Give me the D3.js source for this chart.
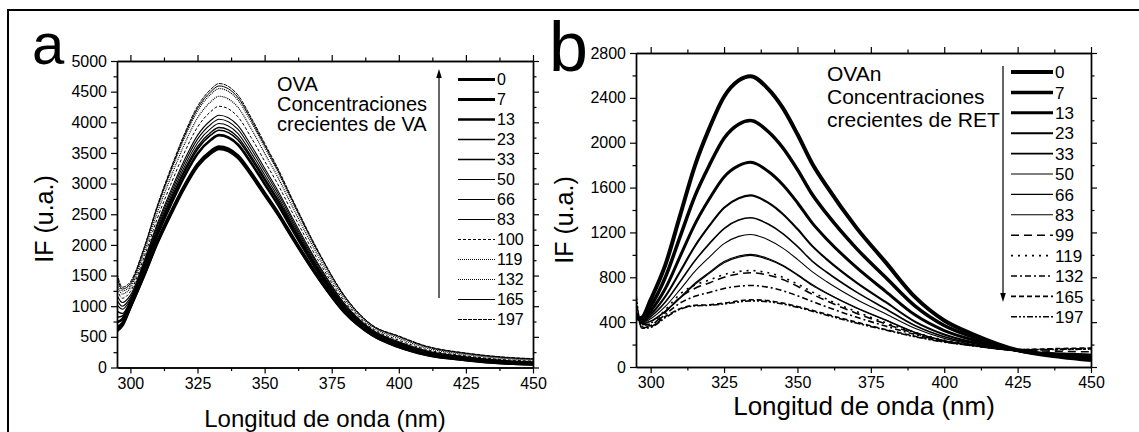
<!DOCTYPE html>
<html><head><meta charset="utf-8">
<script src="https://cdn.jsdelivr.net/npm/d3@7"></script>
<style>
body{margin:0;background:#fff;}
text{font-family:"Liberation Sans",Arial,sans-serif;fill:#000;}
</style>
</head><body>
<svg id="c" width="1139" height="432"></svg>
<script>
// ---------- DATA ----------
const waveA = [295,297,300,305,310,315,320,325,330,333,340,345,350,355,360,370,380,390,400,410,425,440,450];
const waveB = [295,297,300,305,310,315,320,325,330,334,340,345,350,355,360,370,380,390,400,410,425,440,450];

const concA = ["0","7","13","23","33","50","66","83","100","119","132","165","197"];
const concB = ["0","7","13","23","33","50","66","83","99","119","132","165","197"];

const xTicks = [300,325,350,375,400,425,450];
const yTicksA = [0,500,1000,1500,2000,2500,3000,3500,4000,4500,5000];
const yTicksB = [0,400,800,1200,1600,2000,2400,2800];

// Panel a: OVA + VA
const va0   = [600,690,990,1500,2036,2500,2929,3286,3500,3572,3429,3143,2822,2500,2143,1465,893,536,339,214,125,71,54];
const va7   = [650,720,1000,1512,2052,2520,2952,3312,3528,3600,3456,3168,2844,2520,2160,1476,900,540,342,216,126,72,54];
const va13  = [740,790,1050,1592,2160,2653,3108,3487,3714,3790,3638,3335,2994,2653,2274,1554,948,569,365,232,138,81,62];
const va23  = [820,840,1070,1625,2206,2709,3173,3560,3793,3870,3715,3406,3057,2709,2322,1587,968,581,378,242,145,87,68];
const va33  = [920,880,1090,1644,2232,2741,3210,3602,3837,3915,3758,3445,3093,2741,2349,1605,979,587,387,250,152,93,74];
const va50  = [1020,950,1110,1672,2269,2786,3264,3662,3900,3980,3821,3502,3144,2786,2388,1632,995,597,398,259,159,100,80];
const va66  = [1100,1000,1140,1701,2309,2835,3321,3726,3969,4050,3888,3564,3200,2835,2430,1661,1013,608,410,268,167,106,86];
const va83  = [1180,1060,1180,1728,2346,2881,3374,3786,4033,4115,3950,3621,3251,2881,2469,1687,1029,617,421,277,174,112,92];
const va100 = [1280,1130,1240,1790,2429,2983,3495,3921,4177,4262,4092,3751,3367,2983,2557,1747,1066,639,445,296,189,125,104];
const va119 = [1350,1200,1300,1859,2522,3098,3629,4071,4337,4425,4248,3894,3496,3098,2655,1814,1106,664,475,321,210,144,121];
const va132 = [1420,1250,1340,1911,2594,3185,3731,4186,4459,4550,4368,4004,3595,3185,2730,1866,1138,683,497,338,224,156,133];
const va165 = [1480,1280,1370,1929,2618,3215,3766,4226,4501,4593,4409,4042,3628,3215,2756,1883,1148,689,506,346,231,162,139];
const va197 = [1540,1310,1400,1945,2640,3242,3798,4261,4539,4632,4447,4076,3659,3242,2779,1899,1158,695,515,353,237,168,145];

// Panel b: OVAn + RET
const ret0   = [430,440,600,910,1350,1790,2130,2410,2555,2593,2480,2310,2075,1815,1610,1245,935,625,415,290,150,90,63];
const ret7   = [440,430,540,800,1160,1520,1800,2040,2165,2197,2100,1955,1760,1540,1365,1060,800,545,370,265,148,100,75];
const ret13  = [450,420,500,700,985,1270,1500,1695,1795,1825,1745,1625,1465,1285,1140,890,675,465,325,240,146,105,85];
const ret23  = [460,410,470,630,850,1075,1260,1420,1505,1530,1465,1365,1230,1080,960,755,580,405,290,220,145,110,92];
const ret33  = [470,400,450,580,760,945,1100,1235,1310,1331,1275,1190,1075,945,845,670,520,370,270,210,144,115,98];
const ret50  = [480,395,430,540,690,850,980,1100,1165,1182,1135,1060,960,850,760,605,475,345,255,200,143,118,104];
const ret66  = [490,390,410,500,620,745,845,940,990,1005,968,908,825,735,660,530,420,310,235,190,142,122,110];
const ret83  = [500,385,405,495,612,735,835,930,980,995,958,900,818,728,655,527,418,308,234,189,142,124,115];
const ret99  = [480,380,380,490,620,700,750,800,830,840,820,780,720,650,590,480,385,300,230,195,150,140,135];
const ret119 = [520,370,390,510,650,730,775,825,852,860,840,800,740,670,605,495,395,310,240,200,155,155,160];
const ret132 = [560,360,370,470,570,630,665,700,720,727,712,680,635,585,535,445,365,290,230,195,155,160,165];
const ret165 = [620,350,360,450,520,550,555,570,590,600,592,570,540,505,470,400,335,275,225,190,155,165,170];
const ret197 = [650,345,355,440,515,545,550,562,580,590,582,562,532,498,462,392,330,270,222,188,152,158,160];

const seriesA = [va0,va7,va13,va23,va33,va50,va66,va83,va100,va119,va132,va165,va197];
const seriesB = [ret0,ret7,ret13,ret23,ret33,ret50,ret66,ret83,ret99,ret119,ret132,ret165,ret197];

// ---------- STYLES ----------
const widthA = [3.2,3.2,2.6,1.6,1.4,1.1,1.1,1.1,1,1.2,1.2,1,1];
const dashA  = [null,null,null,null,null,null,null,null,"3,2","1,1","1,1",null,"4,1"];
const widthB = [4,3.5,3,2.1,1.6,1.1,1.2,1.1,1.6,1.6,1.6,1.6,1.6];
const dashB  = [null,null,null,null,null,null,null,null,"8,5","2,5","6,3,2,3","5,3","6,2,2,2,2,2"];

const svg = d3.select("#c");
svg.append("rect").attr("x",8).attr("y",10).attr("width",1200).attr("height",500)
  .attr("fill","none").attr("stroke","#000").attr("stroke-width",2);

function panel(cfg){
  const x = d3.scaleLinear().domain([295,450]).range([cfg.left,cfg.right]);
  const y = d3.scaleLinear().domain([0,cfg.ymax]).range([cfg.bottom,cfg.top]);
  const g = svg.append("g");
  const clipId = "clip"+cfg.id;
  svg.append("clipPath").attr("id",clipId).append("rect")
    .attr("x",cfg.left).attr("y",cfg.top-2).attr("width",cfg.right-cfg.left).attr("height",cfg.bottom-cfg.top+2);

  const line = d3.line().x((d,i)=>x(cfg.wave[i])).y(d=>y(d)).curve(d3.curveMonotoneX);
  cfg.series.forEach((s,k)=>{
    g.append("path").attr("d",line(s)).attr("fill","none").attr("stroke","#000")
      .attr("stroke-width",cfg.widths[k]).attr("stroke-dasharray",cfg.dashes[k])
      .attr("stroke-linejoin","round").attr("clip-path",`url(#${clipId})`);
  });

  const xMinor = d3.range(312.5,450,25);
  const yMinor = cfg.yTicks.slice(0,-1).map((v,i)=>(v+cfg.yTicks[i+1])/2);
  function ax(gen, scale, vals, size, labels, tr){
    const a = gen(scale).tickValues(vals).tickSize(size).tickSizeOuter(0).tickPadding(4)
      .tickFormat(labels? d3.format("d") : "");
    const gg = g.append("g").attr("transform",tr).call(a);
    gg.selectAll("text").attr("font-size",16).attr("font-family","Liberation Sans, Arial, sans-serif").attr("fill","#000");
    gg.selectAll("line").attr("stroke","#000").attr("stroke-width",1.2);
    gg.select(".domain").attr("stroke","#000").attr("stroke-width",1.4);
    return gg;
  }
  ax(d3.axisBottom,x,cfg.xTicks,6,true,`translate(0,${cfg.bottom})`);
  ax(d3.axisBottom,x,xMinor,3.5,false,`translate(0,${cfg.bottom})`);
  ax(d3.axisTop,x,cfg.xTicks,6,false,`translate(0,${cfg.top})`);
  ax(d3.axisTop,x,xMinor,3.5,false,`translate(0,${cfg.top})`);
  ax(d3.axisLeft,y,cfg.yTicks,6,true,`translate(${cfg.left},0)`);
  ax(d3.axisLeft,y,yMinor,3.5,false,`translate(${cfg.left},0)`);
  ax(d3.axisRight,y,cfg.yTicks,6,false,`translate(${cfg.right},0)`);
  ax(d3.axisRight,y,yMinor,3.5,false,`translate(${cfg.right},0)`);

  // legend
  cfg.labels.forEach((lab,k)=>{
    const ly = cfg.leg.y0 + k*cfg.leg.dy;
    g.append("line").attr("x1",cfg.leg.x1).attr("x2",cfg.leg.x2).attr("y1",ly).attr("y2",ly)
      .attr("stroke","#000").attr("stroke-width",cfg.widths[k]).attr("stroke-dasharray",cfg.dashes[k]);
    g.append("text").attr("x",cfg.leg.x2+2).attr("y",ly).attr("dy","0.36em")
      .attr("font-size",cfg.leg.fs).text(lab);
  });
  // annotation
  cfg.note.lines.forEach((t,i)=>{
    g.append("text").attr("x",cfg.note.x).attr("y",cfg.note.ys[i]).attr("font-size",cfg.note.fs).text(t);
  });
  // arrow
  const ar = cfg.arrow;
  g.append("line").attr("x1",ar.x).attr("x2",ar.x).attr("y1",ar.from).attr("y2",ar.to + (ar.to<ar.from?6:-6))
    .attr("stroke","#000").attr("stroke-width",1.2);
  const s = ar.to<ar.from ? 1 : -1;
  g.append("path").attr("d",`M${ar.x},${ar.to} L${ar.x-2.8},${ar.to+s*9} L${ar.x+2.8},${ar.to+s*9} Z`).attr("fill","#000");

  // axis titles
  g.append("text").attr("transform",`translate(${cfg.ylab.x},${cfg.ylab.y}) rotate(-90)`)
    .attr("text-anchor","middle").attr("font-size",cfg.ylab.fs).text("IF (u.a.)");
  g.append("text").attr("x",cfg.xlab.x).attr("y",cfg.xlab.y).attr("text-anchor","middle")
    .attr("font-size",cfg.xlab.fs).text("Longitud de onda (nm)");
  g.append("text").attr("x",cfg.letter.x).attr("y",cfg.letter.y).attr("font-size",cfg.letter.fs).text(cfg.letter.t);
}

panel({id:"a", left:117, right:533, top:61, bottom:367.5, ymax:5000,
  wave:waveA, series:seriesA, widths:widthA, dashes:dashA, labels:concA,
  xTicks:xTicks, yTicks:yTicksA,
  leg:{x1:458,x2:495,y0:79.5,dy:20,fs:16},
  note:{x:277, ys:[90.7,110.7,130.7], fs:20, lines:["OVA","Concentraciones","crecientes de VA"]},
  arrow:{x:439, from:298, to:69},
  ylab:{x:53, y:219, fs:25}, xlab:{x:325, y:427, fs:24},
  letter:{x:32, y:64, fs:58, t:"a"}});

panel({id:"b", left:636, right:1091, top:53, bottom:367, ymax:2800,
  wave:waveB, series:seriesB, widths:widthB, dashes:dashB, labels:concB,
  xTicks:xTicks, yTicks:yTicksB,
  leg:{x1:1011,x2:1053,y0:72,dy:20.4,fs:17},
  note:{x:827, ys:[81,104,127], fs:21, lines:["OVAn","Concentraciones","crecientes de RET"]},
  arrow:{x:1003, from:66, to:302},
  ylab:{x:573, y:220, fs:25}, xlab:{x:864, y:415, fs:26},
  letter:{x:549, y:71, fs:70, t:"b"}});
</script>
</body></html>
